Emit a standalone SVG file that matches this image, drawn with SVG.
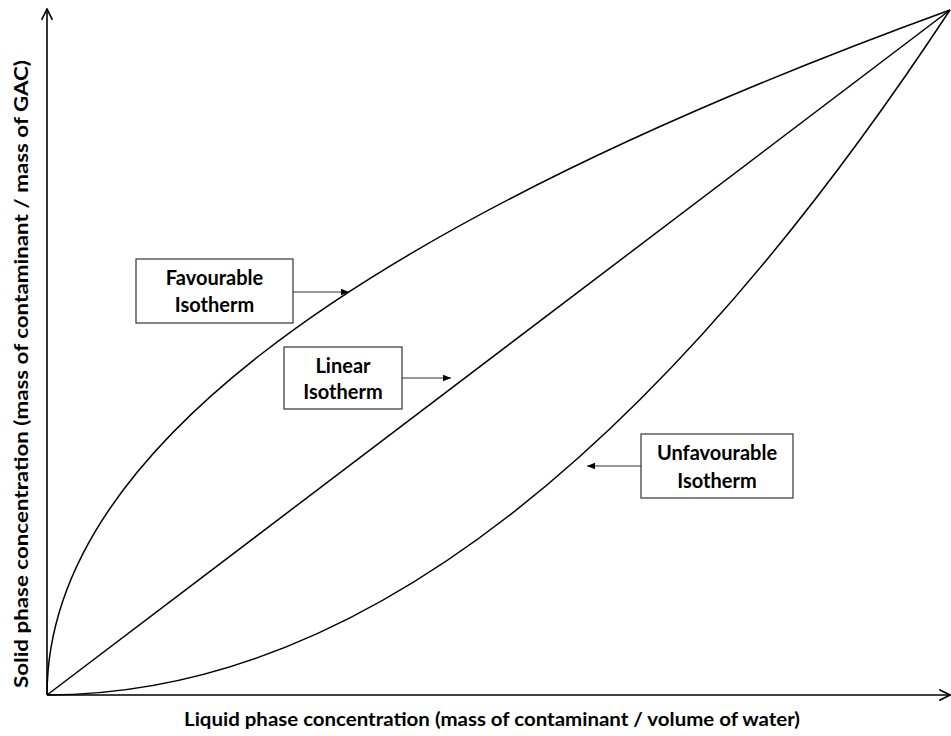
<svg xmlns="http://www.w3.org/2000/svg" width="951" height="736" viewBox="0 0 951 736">
<style>
.curve{fill:none;stroke:#000;stroke-width:1.5}
.axis{fill:none;stroke:#000;stroke-width:1.6}
.box{fill:#fff;stroke:#333;stroke-width:1.2}
.lbl{font-family:Lato,"Open Sans",sans-serif;font-weight:bold;font-size:18px;fill:#000;text-anchor:middle}
.blbl{font-family:Lato,"Open Sans",sans-serif;font-weight:bold;font-size:20px;fill:#000;text-anchor:middle}
.conn{fill:none;stroke:#333;stroke-width:1.2}
</style>
<defs>
<marker id="ah" viewBox="0 0 10 10" refX="10" refY="5" markerWidth="8" markerHeight="8" markerUnits="userSpaceOnUse" orient="auto">
<path d="M0,1 L10,5 L0,9 Z" fill="#000"/>
</marker>
<marker id="axh" viewBox="0 0 12 12" refX="11" refY="6" markerWidth="13" markerHeight="13" markerUnits="userSpaceOnUse" orient="auto">
<path d="M1,1 L11,6 L1,11" fill="none" stroke="#000" stroke-width="1.5"/>
</marker>
</defs>
<rect width="951" height="736" fill="#fff"/>
<g id="axes">
<line class="axis" x1="47" y1="695" x2="47" y2="9" marker-end="url(#axh)"/>
<line class="axis" x1="47" y1="695" x2="950" y2="695" marker-end="url(#axh)"/>
<text class="lbl" transform="translate(28,374) rotate(-90)" textLength="628" lengthAdjust="spacingAndGlyphs">Solid phase concentration (mass of contaminant / mass of GAC)</text>
<text class="lbl" x="492" y="726" textLength="616" lengthAdjust="spacingAndGlyphs">Liquid phase concentration (mass of contaminant / volume of water)</text>
</g>
<g id="curves">
<path id="favourable-curve" class="curve" d="M47,695 C47,466.7 322.9,238.3 950,10"/>
<path id="linear-curve" class="curve" d="M47,695 L950,10"/>
<path id="unfavourable-curve" class="curve" d="M47,695 Q498.5,695 950,10"/>
</g>
<g id="connectors">
<line class="conn" x1="293" y1="292" x2="349" y2="292" marker-end="url(#ah)"/>
<line class="conn" x1="402" y1="378" x2="451" y2="378" marker-end="url(#ah)"/>
<line class="conn" x1="641" y1="466" x2="587" y2="466" marker-end="url(#ah)"/>
</g>
<g id="favourable-box">
<rect class="box" x="136" y="259" width="157" height="64"/>
<text class="blbl" x="214.5" y="285">Favourable</text>
<text class="blbl" x="214.5" y="312">Isotherm</text>
</g>
<g id="linear-box">
<rect class="box" x="284" y="347" width="118" height="62"/>
<text class="blbl" x="343" y="373">Linear</text>
<text class="blbl" x="343" y="399">Isotherm</text>
</g>
<g id="unfavourable-box">
<rect class="box" x="641" y="434" width="152" height="64"/>
<text class="blbl" x="717" y="460">Unfavourable</text>
<text class="blbl" x="717" y="488">Isotherm</text>
</g>
</svg>
